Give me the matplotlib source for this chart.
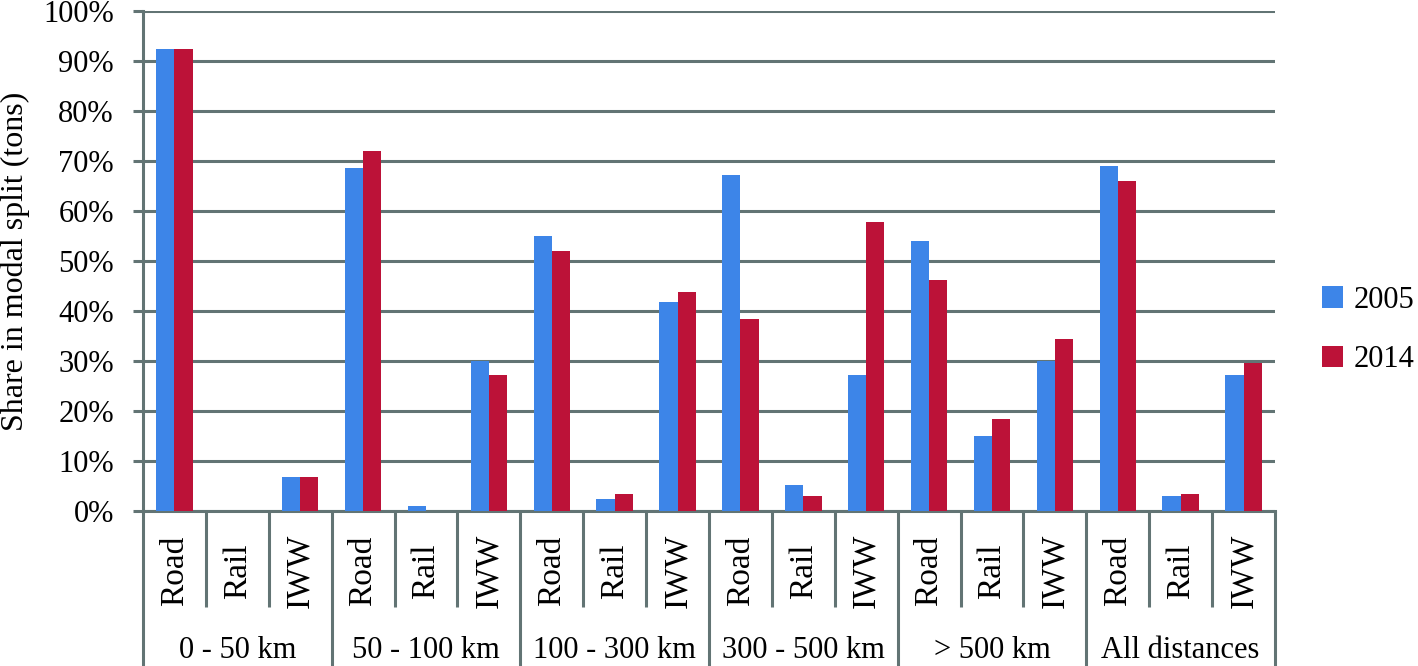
import numpy as np
import matplotlib.pyplot as plt
import matplotlib.transforms as mtransforms

plt.rcParams['font.family'] = ['Liberation Serif', 'DejaVu Serif']

# data (share in %)
groups = ["0 - 50 km", "50 - 100 km", "100 - 300 km", "300 - 500 km", "> 500 km", "All distances"]
modes = ["Road", "Rail", "IWW"]
share_2005 = [92.5, 0.0, 6.8, 68.6, 1.0, 30.1, 55.0, 2.4, 41.8,
              67.2, 5.3, 27.2, 54.0, 15.1, 30.1, 69.1, 3.0, 27.2]
share_2014 = [92.5, 0.0, 6.8, 72.0, 0.0, 27.2, 52.1, 3.4, 43.8,
              38.4, 3.0, 57.9, 46.2, 18.5, 34.5, 66.1, 3.4, 29.7]

blue = '#3d85e8'
red = '#bc1238'
grid_col = '#627474'
fs = 22

fig = plt.figure(figsize=(14.18, 6.66), dpi=100)
ax = fig.add_axes([143/1418, 1 - 511/666, (1275 - 143)/1418, 500/666])

x = np.arange(len(share_2005))
w = 0.29
ax.bar(x - w/2, share_2005, w, color=blue, label='2005', zorder=3)
ax.bar(x + w/2, share_2014, w, color=red, label='2014', zorder=3)

ax.set_xlim(-0.5, len(x) - 0.5)
ax.set_ylim(0, 100)
ax.set_yticks(np.arange(0, 101, 10))
ax.set_yticklabels([f"{v}%" for v in range(0, 101, 10)], fontsize=fs)
ax.yaxis.grid(True, color=grid_col, linewidth=2.2, zorder=0)
ax.tick_params(axis='y', length=7, width=2.2, color=grid_col, pad=14)
ax.set_xticks([])

for s in ['top', 'right']:
    ax.spines[s].set_visible(False)
ax.spines['left'].set_color(grid_col)
ax.spines['left'].set_linewidth(2.2)
ax.spines['bottom'].set_color(grid_col)
ax.spines['bottom'].set_linewidth(2.2)

ax.set_ylabel("Share in modal split (tons)", fontsize=23, va='center')
ax.yaxis.set_label_coords(-0.113, 0.5)

# two-level category axis
trans = mtransforms.blended_transform_factory(ax.transData, ax.transAxes)
for i in range(len(x) + 1):
    pos = i - 0.5
    low = -0.31 if i % 3 == 0 else -0.192
    ax.plot([pos, pos], [0, low], transform=trans, color=grid_col,
            lw=2.2, clip_on=False, solid_capstyle='butt')
for i in x:
    ax.text(i, -0.12, modes[i % 3], transform=trans, rotation=90,
            ha='center', va='center', fontsize=24)
for g, name in enumerate(groups):
    ax.text(3*g + 1, -0.28, name, transform=trans,
            ha='center', va='center', fontsize=fs)

leg = ax.legend(loc='center left', bbox_to_anchor=(1322/1418, 1 - 330/666),
                bbox_transform=fig.transFigure, frameon=False, fontsize=fs,
                handlelength=0.7, handleheight=0.7, handletextpad=0.35,
                labelspacing=1.0, borderpad=0, borderaxespad=0)

fig.savefig('out.png', dpi=100)
